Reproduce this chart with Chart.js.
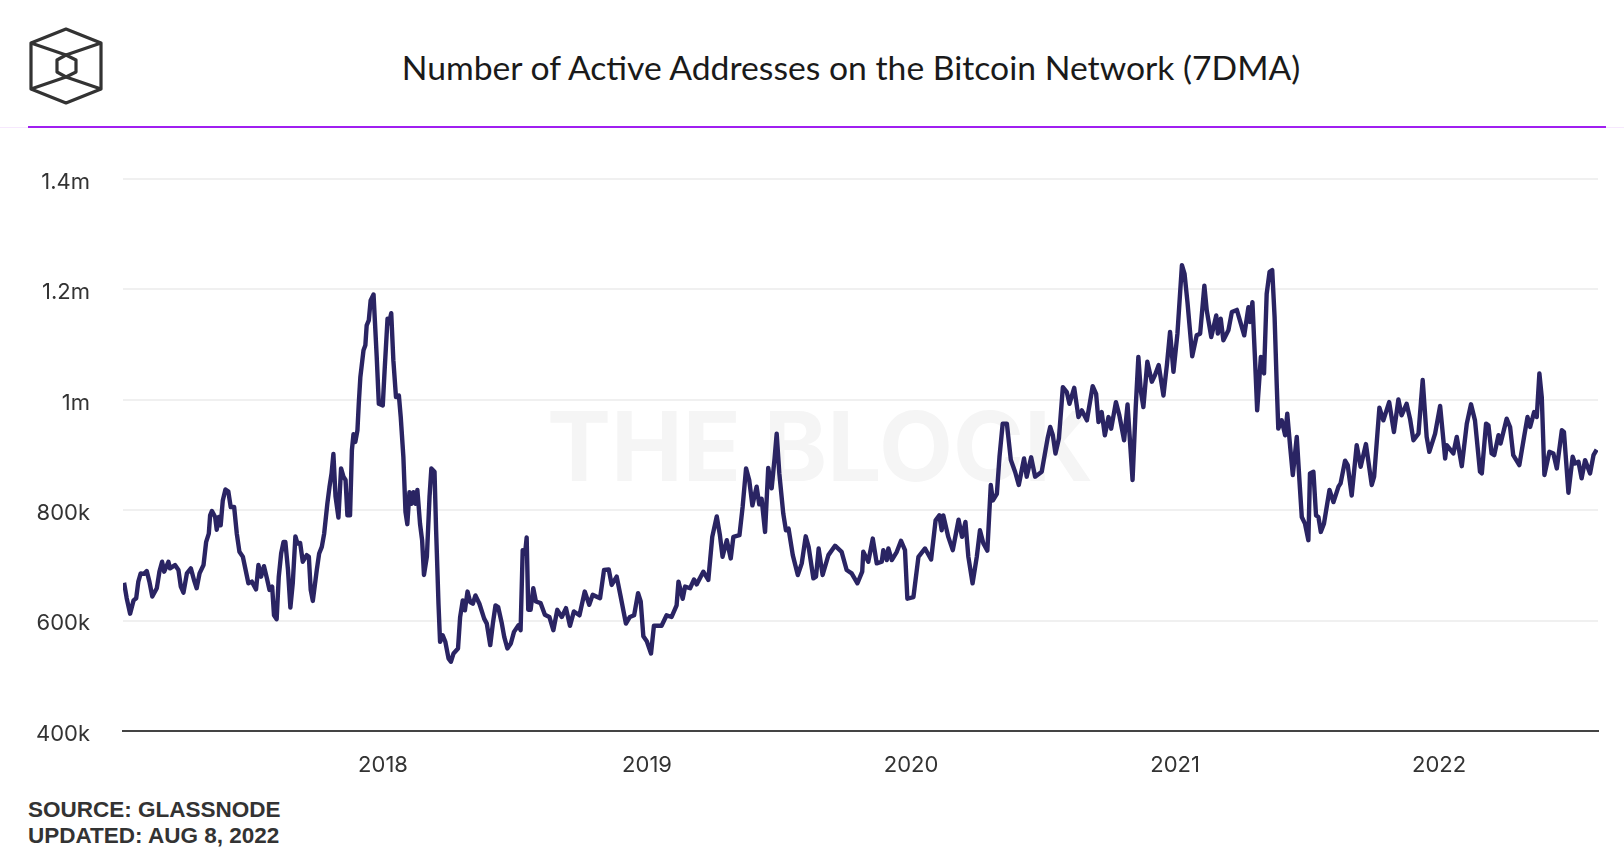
<!DOCTYPE html>
<html>
<head>
<meta charset="utf-8">
<title>Number of Active Addresses on the Bitcoin Network (7DMA)</title>
<script src="https://cdn.jsdelivr.net/npm/chart.js@4/dist/chart.umd.js"></script>
<style>
  html, body { margin: 0; padding: 0; background: #fff; }
  #page { position: relative; width: 1624px; height: 862px; overflow: hidden; }
  #logo { position: absolute; left: 0; top: 0; }
  #title { position: absolute; left: 0; right: 0; top: 47px; padding-left: 78px; text-align: center; font: 400 33.7px Lato, sans-serif; color: #1a1a1a; }
  #rule { position: absolute; left: 28px; width: 1578px; top: 125.5px; height: 2px; background: #a01ff0; }
  #ruleFaint { position: absolute; left: 0; width: 1624px; top: 127px; height: 1px; background: #f6e8fd; }
  #mark { position: absolute; left: 547px; top: 388px; font: 700 96px Inter, sans-serif; color: #f5f5f5; white-space: nowrap; }
  #source { position: absolute; left: 28px; top: 797px; font: 700 22.5px/26px "Liberation Sans", sans-serif; color: #333; }
  canvas { position: absolute; left: 0; top: 0; }
</style>
</head>
<body>
<div id="page">
  <div id="ruleFaint"></div>
  <div id="rule"></div>
  <svg id="logo" width="120" height="120" fill="none" stroke="#333" stroke-width="3.2" stroke-linejoin="round">
    <path d="M66 29 101 43V89L66 103 31 89V43Z"/>
    <path d="M31 43 66 55 101 43M31 89 66 77 101 89"/>
    <path d="M66 55 76 60V72L66 77 57 72V60Z"/>
  </svg>
  <div id="title">Number of Active Addresses on the Bitcoin Network (7DMA)</div>
  <div id="mark">THE BLOCK</div>
  <div id="source">SOURCE: GLASSNODE<br>UPDATED: AUG 8, 2022</div>
  <canvas id="grafico" width="1624" height="862"></canvas>
</div>
<script>
const years = [2018, 2019, 2020, 2021, 2022];
const yTicks = [400000, 600000, 800000, 1000000, 1200000, 1400000];
const yTickLabels = ["400k", "600k", "800k", "1m", "1.2m", "1.4m"];

// decimal year of each reading
const dates = [
  2017.019,2017.029,2017.042,2017.055,2017.065,2017.073,2017.082,2017.095,2017.105,2017.115,2017.126,2017.143,2017.153,2017.163,2017.171,2017.187,2017.193,2017.212,2017.225,2017.234,2017.244,2017.257,2017.272,2017.284,2017.294,2017.305,2017.320,2017.330,2017.340,2017.345,2017.352,2017.364,2017.370,2017.378,2017.385,2017.393,2017.403,2017.414,2017.423,2017.436,2017.446,2017.456,2017.469,2017.490,2017.503,2017.519,2017.528,2017.538,2017.549,2017.560,2017.570,2017.580,2017.587,2017.597,2017.605,2017.614,2017.623,2017.630,2017.640,2017.649,2017.658,2017.668,2017.676,2017.686,2017.696,2017.711,2017.719,2017.726,2017.734,2017.749,2017.758,2017.768,2017.777,2017.789,2017.797,2017.805,2017.812,2017.820,2017.831,2017.841,2017.850,2017.858,2017.865,2017.875,2017.882,2017.888,2017.895,2017.903,2017.908,2017.914,2017.926,2017.933,2017.938,2017.946,2017.953,2017.964,2017.969,2017.976,2017.984,2017.999,
  2018.006,2018.017,2018.022,2018.031,2018.039,2018.049,2018.060,2018.067,2018.077,2018.085,2018.092,2018.100,2018.108,2018.115,2018.123,2018.130,2018.140,2018.148,2018.155,2018.166,2018.176,2018.183,2018.195,2018.201,2018.210,2018.216,2018.226,2018.236,2018.248,2018.257,2018.267,2018.284,2018.292,2018.302,2018.310,2018.320,2018.330,2018.340,2018.350,2018.365,2018.383,2018.393,2018.406,2018.416,2018.426,2018.436,2018.450,2018.459,2018.471,2018.484,2018.496,2018.513,2018.521,2018.529,2018.538,2018.544,2018.550,2018.559,2018.569,2018.579,2018.597,2018.613,2018.630,2018.645,2018.660,2018.677,2018.693,2018.708,2018.723,2018.744,2018.764,2018.781,2018.794,2018.822,2018.837,2018.855,2018.866,2018.885,2018.900,2018.920,2018.935,2018.951,2018.966,2018.976,2018.986,2018.999,
  2019.015,2019.026,2019.055,2019.074,2019.093,2019.112,2019.119,2019.135,2019.144,2019.163,2019.178,2019.188,2019.213,2019.232,2019.247,2019.264,2019.276,2019.286,2019.302,2019.317,2019.327,2019.350,2019.362,2019.375,2019.387,2019.399,2019.415,2019.425,2019.434,2019.447,2019.459,2019.472,2019.483,2019.491,2019.501,2019.516,2019.526,2019.536,2019.552,2019.571,2019.586,2019.601,2019.612,2019.630,2019.640,2019.650,2019.665,2019.687,2019.712,2019.737,2019.756,2019.775,2019.797,2019.815,2019.819,2019.838,2019.855,2019.870,2019.889,2019.895,2019.908,2019.914,2019.927,2019.946,2019.962,2019.977,2019.986,
  2020.009,2020.028,2020.053,2020.076,2020.093,2020.107,2020.116,2020.122,2020.141,2020.158,2020.180,2020.193,2020.206,2020.217,2020.233,2020.249,2020.261,2020.274,2020.289,2020.302,2020.310,2020.325,2020.335,2020.347,2020.363,2020.378,2020.394,2020.408,2020.428,2020.438,2020.455,2020.470,2020.495,2020.517,2020.527,2020.537,2020.547,2020.560,2020.575,2020.590,2020.600,2020.618,2020.634,2020.647,2020.666,2020.688,2020.701,2020.710,2020.722,2020.734,2020.748,2020.758,2020.776,2020.789,2020.807,2020.820,2020.839,2020.851,2020.861,2020.870,2020.880,2020.895,2020.912,2020.924,2020.938,2020.956,2020.969,2020.981,2020.994,
  2021.009,2021.026,2021.036,2021.047,2021.065,2021.082,2021.095,2021.111,2021.120,2021.137,2021.156,2021.162,2021.173,2021.183,2021.202,2021.215,2021.234,2021.262,2021.278,2021.284,2021.293,2021.303,2021.311,2021.325,2021.337,2021.347,2021.358,2021.368,2021.377,2021.385,2021.391,2021.404,2021.417,2021.425,2021.436,2021.446,2021.461,2021.471,2021.480,2021.492,2021.505,2021.511,2021.524,2021.534,2021.543,2021.552,2021.564,2021.585,2021.600,2021.619,2021.627,2021.644,2021.654,2021.669,2021.688,2021.703,2021.723,2021.745,2021.754,2021.774,2021.789,2021.811,2021.829,2021.846,2021.858,2021.877,2021.890,2021.903,2021.922,2021.938,2021.953,2021.963,2021.985,
  2022.004,2022.023,2022.029,2022.054,2022.067,2022.086,2022.105,2022.121,2022.136,2022.155,2022.162,2022.178,2022.187,2022.199,2022.209,2022.225,2022.233,2022.256,2022.269,2022.281,2022.304,2022.322,2022.335,2022.345,2022.360,2022.370,2022.380,2022.389,2022.399,2022.418,2022.433,2022.446,2022.465,2022.473,2022.490,2022.506,2022.515,2022.528,2022.540,2022.553,2022.572,2022.585,2022.597
];

// active addresses, thousands
const activeAddresses = [
  669,641,613,637,641,671,686,685,690,671,644,659,689,707,689,707,695,701,692,662,651,686,695,674,659,686,701,743,758,791,799,788,765,788,773,818,838,834,806,806,758,725,716,668,671,657,701,680,699,677,656,662,610,603,680,722,743,743,692,624,668,753,740,741,707,719,716,656,636,692,722,734,758,812,842,867,902,825,787,876,861,855,791,791,909,938,924,945,993,1041,1090,1099,1135,1144,1180,1191,1144,1078,993,990,
  1054,1147,1138,1157,1072,1005,1008,969,897,797,775,833,812,833,812,837,776,746,683,716,824,876,870,764,631,562,574,562,532,526,541,550,607,637,619,653,634,631,646,631,604,595,556,595,628,625,595,571,550,559,580,592,583,728,722,751,620,620,659,635,632,611,607,583,620,607,623,591,617,610,653,629,647,641,692,693,665,680,644,595,607,610,650,635,572,563,
  541,591,591,610,607,628,671,640,662,659,675,666,689,674,752,789,755,716,746,713,752,755,806,876,855,809,843,811,821,761,877,840,894,939,867,794,764,767,719,683,704,753,734,677,680,731,683,719,736,725,692,686,668,689,725,707,749,704,707,728,710,731,710,725,745,728,640,
  643,716,731,711,782,791,764,791,752,728,783,752,779,716,668,716,764,740,727,846,818,830,897,957,957,891,870,846,894,861,896,861,870,930,951,936,903,930,1023,1014,993,1022,969,981,963,1025,1011,960,978,936,969,948,996,972,927,992,855,987,1078,1017,987,1069,1033,1045,1063,1008,1063,1123,1051,
  1120,1244,1228,1177,1079,1117,1120,1207,1162,1114,1153,1120,1147,1108,1126,1159,1163,1117,1168,1141,1177,1072,981,1078,1048,1192,1232,1235,1150,1029,948,963,936,975,915,864,933,855,788,776,746,867,870,791,788,761,776,837,815,843,849,890,882,827,918,879,920,846,861,986,963,996,942,1001,972,993,966,927,939,1036,933,906,939,
  989,894,918,903,933,880,957,992,963,870,867,957,954,903,900,936,921,966,951,900,882,933,969,951,978,969,1048,1005,864,906,903,876,945,942,832,897,885,888,858,891,867,900,910
];

new Chart(document.getElementById("grafico"), {
  type: "line",
  data: {
    datasets: [{
      data: dates.map((d, i) => ({ x: d, y: activeAddresses[i] * 1000 })),
      borderColor: "#2a2463",
      borderWidth: 4.4,
      borderJoinStyle: "round",
      pointRadius: 0,
      tension: 0
    }]
  },
  options: {
    responsive: false,
    animation: false,
    layout: { padding: { top: 179, right: 26, left: 0, bottom: 0 } },
    plugins: { legend: { display: false }, tooltip: { enabled: false } },
    scales: {
      x: {
        type: "linear",
        min: 2017.015,
        max: 2022.602,
        afterBuildTicks: axis => { axis.ticks = years.map(y => ({ value: y })); },
        afterFit: axis => { axis.height = 130.7; },
        grid: { display: false, drawTicks: false },
        border: { color: "#444", width: 2 },
        ticks: {
          autoSkip: false,
          maxRotation: 0,
          padding: 21,
          color: "#333",
          font: { family: "Inter", size: 22 },
          callback: v => String(v)
        }
      },
      y: {
        min: 400000,
        max: 1400000,
        afterBuildTicks: axis => { axis.ticks = yTicks.map(v => ({ value: v })); },
        afterFit: axis => { axis.width = 123; },
        grid: { color: "#f0f0f0", lineWidth: 2, drawTicks: false },
        border: { display: false },
        ticks: {
          padding: 33,
          labelOffset: 3,
          color: "#333",
          font: { family: "Inter", size: 22 },
          callback: v => yTickLabels[yTicks.indexOf(v)]
        }
      }
    }
  }
});
</script>
</body>
</html>
